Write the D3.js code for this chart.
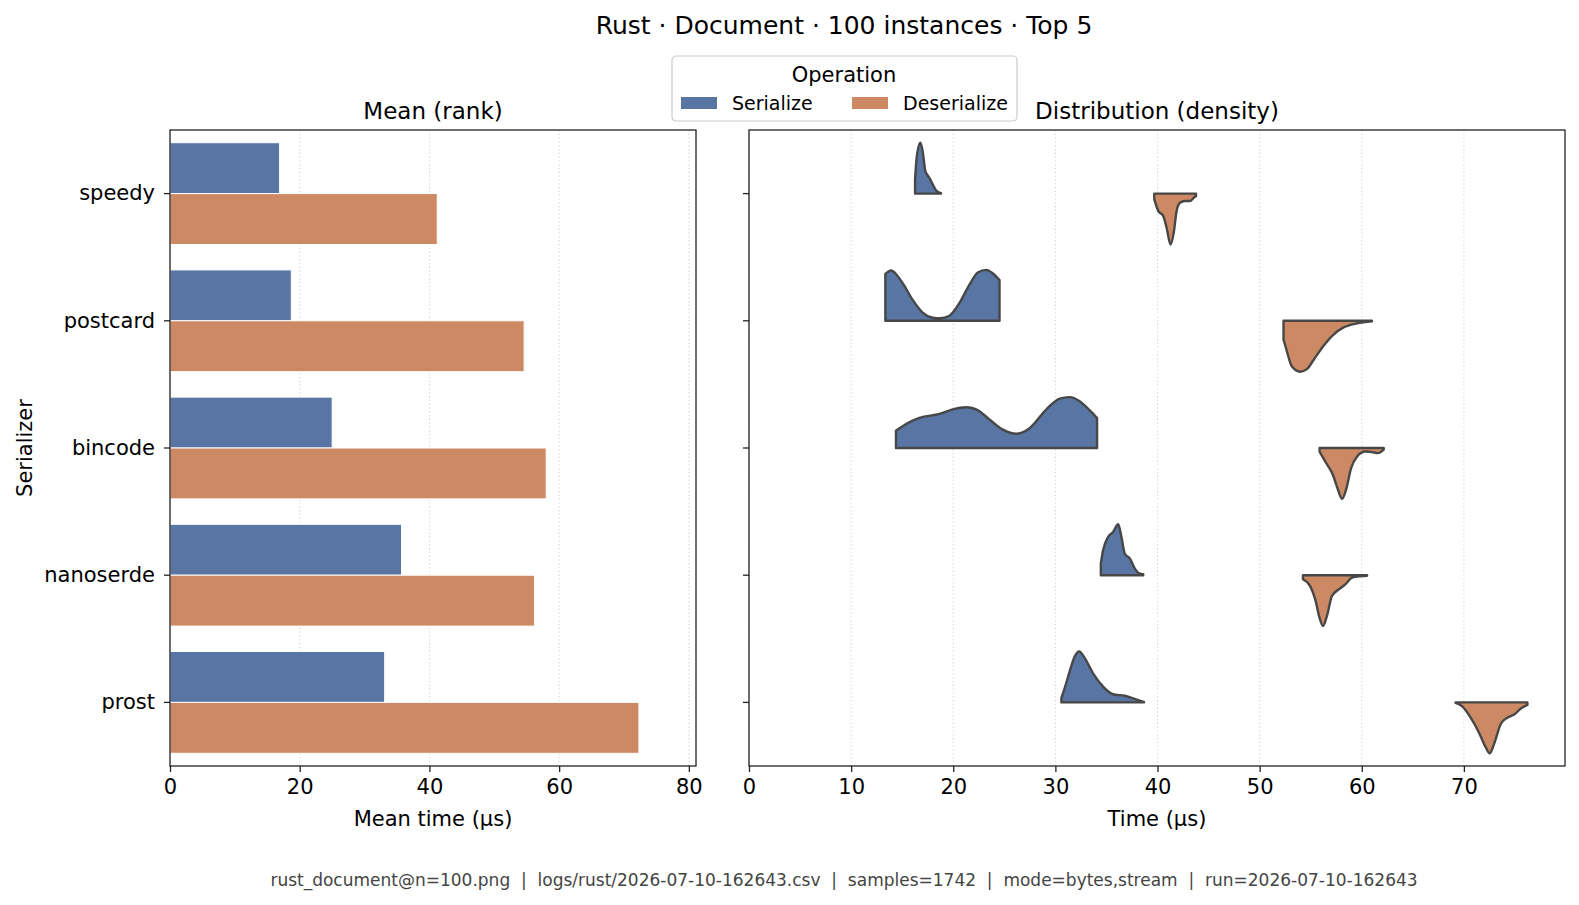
<!DOCTYPE html>
<html>
<head>
<meta charset="utf-8">
<script src="https://cdn.jsdelivr.net/npm/d3@7"></script>
<style>
  body { margin: 0; background: #fff; }
  text { font-family: 'DejaVu Sans', sans-serif; }
</style>
</head>
<body>
<script>
const serializers = ['speedy', 'postcard', 'bincode', 'nanoserde', 'prost'];
const operations = ['Serialize', 'Deserialize'];
const opColors = ['#5875a4', '#cc8963'];

// mean time (µs) per serializer
const meanSerialize = [16.9, 18.7, 25.0, 35.7, 33.1];
const meanDeserialize = [41.2, 54.6, 58.0, 56.2, 72.3];

const meanTicks = [0, 20, 40, 60, 80];
const timeTicks = [0, 10, 20, 30, 40, 50, 60, 70];

// density outlines: [time µs, density relative to the peak]
const densitySerialize = [
  [[16.26, 0.28], [16.42, 0.71], [16.78, 1.0], [17.0, 0.84], [17.27, 0.44], [17.66, 0.31], [17.99, 0.18], [18.38, 0.05], [18.81, 0.01]],
  [[13.35, 0.92], [13.9, 0.99], [14.39, 0.92], [15.05, 0.74], [16.03, 0.41], [17.0, 0.16], [17.99, 0.06], [18.71, 0.05], [19.63, 0.10], [20.61, 0.35], [21.59, 0.71], [22.41, 0.95], [23.23, 1.0], [23.88, 0.93], [24.53, 0.80]],
  [[14.39, 0.34], [15.38, 0.47], [16.68, 0.59], [18.65, 0.67], [19.95, 0.76], [21.26, 0.80], [22.25, 0.76], [23.55, 0.56], [24.86, 0.36], [26.17, 0.28], [27.48, 0.39], [29.12, 0.76], [30.42, 0.97], [31.4, 1.0], [32.38, 0.92], [33.37, 0.74], [34.08, 0.59]],
  [[34.45, 0.23], [34.67, 0.49], [35.16, 0.75], [35.65, 0.85], [36.15, 1.0], [36.47, 0.75], [36.8, 0.42], [37.29, 0.33], [37.78, 0.13], [38.27, 0.03], [38.6, 0.02]],
  [[30.59, 0.09], [30.91, 0.28], [31.4, 0.61], [31.89, 0.9], [32.32, 1.0], [32.88, 0.87], [33.69, 0.57], [34.67, 0.31], [35.65, 0.16], [36.8, 0.13], [37.62, 0.08], [38.67, 0.01]]
];
const densityDeserialize = [
  [[39.68, 0.11], [40.07, 0.34], [40.56, 0.44], [40.89, 0.67], [41.28, 1.0], [41.61, 0.74], [41.87, 0.34], [42.2, 0.18], [42.69, 0.145], [43.18, 0.145], [43.67, 0.06], [43.77, 0.05]],
  [[52.34, 0.37], [52.67, 0.6], [53.16, 0.9], [53.97, 1.0], [54.63, 0.95], [55.28, 0.77], [56.26, 0.49], [57.24, 0.27], [58.22, 0.13], [59.53, 0.05], [61.0, 0.01]],
  [[55.87, 0.07], [56.43, 0.27], [57.18, 0.53], [57.64, 0.8], [58.06, 1.0], [58.49, 0.8], [58.95, 0.4], [59.53, 0.17], [60.35, 0.07], [61.0, 0.08], [61.56, 0.1], [62.15, 0.03]],
  [[54.24, 0.08], [54.96, 0.22], [55.45, 0.48], [55.87, 0.84], [56.2, 1.0], [56.59, 0.8], [57.08, 0.41], [57.74, 0.28], [58.39, 0.18], [59.05, 0.05], [59.86, 0.02], [60.52, 0.01]],
  [[69.19, 0.01], [69.84, 0.08], [70.66, 0.3], [71.47, 0.59], [72.13, 0.88], [72.52, 1.0], [72.95, 0.82], [73.6, 0.43], [74.26, 0.3], [74.92, 0.24], [75.58, 0.12], [76.22, 0.05]]
];

const footerText = 'rust_document@n=100.png  |  logs/rust/2026-07-10-162643.csv  |  samples=1742  |  mode=bytes,stream  |  run=2026-07-10-162643';

const width = 1579, height = 905;
const plotTop = 130, plotBottom = 766;

const svg = d3.select('body').append('svg')
  .attr('width', width)
  .attr('height', height);

const yScale = d3.scaleBand().domain(serializers).range([plotTop, plotBottom]);
const xMean = d3.scaleLinear().domain([0, 81.1]).range([170, 696]);
const xTime = d3.scaleLinear().domain([0, 79.9]).range([749, 1565]);
const half = yScale.bandwidth() * 0.4;

function gridLines(g, scale, ticks) {
  g.selectAll('line.grid')
    .data(ticks)
    .enter()
    .append('line')
    .attr('class', 'grid')
    .attr('x1', d => scale(d)).attr('x2', d => scale(d))
    .attr('y1', plotTop).attr('y2', plotBottom)
    .attr('stroke', '#d3d3d3')
    .attr('stroke-width', 1.1)
    .attr('stroke-dasharray', '1.2,2.6');
}

function styleAxis(g) {
  g.select('.domain').remove();
  g.selectAll('.tick line').attr('stroke', '#222').attr('stroke-width', 1.3);
  g.selectAll('.tick text').attr('fill', '#000').style('font-size', '21px').style('font-family', 'DejaVu Sans, sans-serif');
}

function frame(scale) {
  const [x0, x1] = scale.range();
  svg.append('rect')
    .attr('x', x0).attr('y', plotTop)
    .attr('width', x1 - x0).attr('height', plotBottom - plotTop)
    .attr('fill', 'none')
    .attr('stroke', '#222')
    .attr('stroke-width', 1.3);
}

// ---------- left: mean bars
const left = svg.append('g');
gridLines(left, xMean, meanTicks);

const meanRows = serializers.map((s, i) => ({ s, vals: [meanSerialize[i], meanDeserialize[i]] }));
left.selectAll('g.row')
  .data(meanRows)
  .enter()
  .append('g')
  .attr('class', 'row')
  .selectAll('rect')
  .data(d => d.vals.map((v, k) => ({ s: d.s, v, k })))
  .enter()
  .append('rect')
  .attr('x', xMean(0))
  .attr('y', d => yScale(d.s) + yScale.bandwidth() / 2 + (d.k === 0 ? -half : 0))
  .attr('width', d => xMean(d.v) - xMean(0))
  .attr('height', half)
  .attr('fill', d => opColors[d.k])
  .attr('stroke', '#fff')
  .attr('stroke-width', 1);

left.append('g')
  .attr('transform', 'translate(0,' + plotBottom + ')')
  .call(d3.axisBottom(xMean).tickValues(meanTicks).tickSize(6).tickPadding(7))
  .call(styleAxis);

left.append('g')
  .attr('transform', 'translate(' + xMean(0) + ',0)')
  .call(d3.axisLeft(yScale).tickSize(6).tickPadding(9))
  .call(styleAxis);

frame(xMean);

// ---------- right: half violins
const right = svg.append('g');
gridLines(right, xTime, timeTicks);

function violin(points, s, dir, color) {
  const base = yScale(s) + yScale.bandwidth() / 2;
  const area = d3.area()
    .x(d => xTime(d[0]))
    .y0(base)
    .y1(d => base + dir * d[1] * half)
    .curve(d3.curveMonotoneX);
  right.append('path')
    .attr('d', area(points))
    .attr('fill', color)
    .attr('stroke', '#474747')
    .attr('stroke-width', 2.4)
    .attr('stroke-linejoin', 'round');
}

serializers.forEach((s, i) => {
  violin(densitySerialize[i], s, -1, opColors[0]);
  violin(densityDeserialize[i], s, 1, opColors[1]);
});

right.append('g')
  .attr('transform', 'translate(0,' + plotBottom + ')')
  .call(d3.axisBottom(xTime).tickValues(timeTicks).tickSize(6).tickPadding(7))
  .call(styleAxis);

right.append('g')
  .attr('transform', 'translate(' + xTime(0) + ',0)')
  .call(d3.axisLeft(yScale).tickSize(6).tickFormat(''))
  .call(styleAxis);

frame(xTime);

// ---------- texts
svg.append('text')
  .text('Rust · Document · 100 instances · Top 5')
  .attr('x', 844).attr('y', 34)
  .attr('text-anchor', 'middle')
  .style('font-size', '25px');

svg.append('text')
  .text('Mean (rank)')
  .attr('x', (xMean.range()[0] + xMean.range()[1]) / 2).attr('y', 119)
  .attr('text-anchor', 'middle')
  .style('font-size', '23px');

svg.append('text')
  .text('Distribution (density)')
  .attr('x', (xTime.range()[0] + xTime.range()[1]) / 2).attr('y', 119)
  .attr('text-anchor', 'middle')
  .style('font-size', '23px');

svg.append('text')
  .text('Mean time (µs)')
  .attr('x', (xMean.range()[0] + xMean.range()[1]) / 2).attr('y', 826)
  .attr('text-anchor', 'middle')
  .style('font-size', '21px');

svg.append('text')
  .text('Time (µs)')
  .attr('x', (xTime.range()[0] + xTime.range()[1]) / 2).attr('y', 826)
  .attr('text-anchor', 'middle')
  .style('font-size', '21px');

svg.append('text')
  .text('Serializer')
  .attr('transform', 'translate(32,' + (plotTop + plotBottom) / 2 + ') rotate(-90)')
  .attr('text-anchor', 'middle')
  .style('font-size', '21px');

svg.append('text')
  .text(footerText)
  .attr('x', 844).attr('y', 886)
  .attr('text-anchor', 'middle')
  .attr('fill', '#444')
  .style('font-size', '17px')
  .style('white-space', 'pre');

// ---------- legend
const legend = svg.append('g').attr('transform', 'translate(672,56)');
legend.append('rect')
  .attr('width', 345).attr('height', 65)
  .attr('rx', 4)
  .attr('fill', '#fff').attr('fill-opacity', 0.8)
  .attr('stroke', '#cccccc').attr('stroke-width', 1.2);
legend.append('text')
  .text('Operation')
  .attr('x', 172).attr('y', 26)
  .attr('text-anchor', 'middle')
  .style('font-size', '21px');
const items = legend.selectAll('g.item')
  .data(operations)
  .enter()
  .append('g')
  .attr('class', 'item')
  .attr('transform', (d, i) => 'translate(' + (9 + i * 171) + ',0)');
items.append('rect')
  .attr('x', 0).attr('y', 41)
  .attr('width', 36).attr('height', 12)
  .attr('fill', (d, i) => opColors[i]);
items.append('text')
  .text(d => d)
  .attr('x', 51).attr('y', 54)
  .style('font-size', '19px');
</script>
</body>
</html>
